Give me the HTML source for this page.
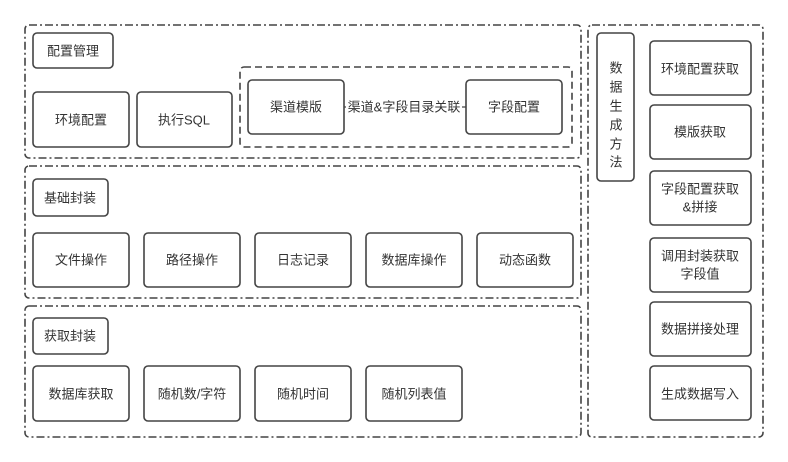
<!DOCTYPE html>
<html><head><meta charset="utf-8"><style>
html,body{margin:0;padding:0;background:#fff;}
svg{display:block;}
text{font-family:"Liberation Sans","Noto Sans CJK SC",sans-serif;font-size:13px;fill:#333;text-anchor:middle;dominant-baseline:central;}
.g{fill:none;stroke:#444;stroke-width:1.6;stroke-dasharray:8 3 2 3;}
.d{fill:none;stroke:#444;stroke-width:1.6;stroke-dasharray:7 4;}
.b{fill:#fff;stroke:#444;stroke-width:1.6;}
</style></head><body>
<svg width="788" height="462" viewBox="0 0 788 462">
<rect class="g" x="25" y="25" width="556" height="133" rx="4"/>
<rect class="g" x="25" y="166" width="556" height="132" rx="4"/>
<rect class="g" x="25" y="306" width="556" height="131" rx="4"/>
<rect class="g" x="588" y="25" width="175" height="412" rx="4"/>
<rect class="d" x="240" y="67" width="332" height="80" rx="4"/>

<rect class="b" x="33" y="33" width="80" height="35" rx="4"/><text x="73" y="51">配置管理</text>
<rect class="b" x="33" y="92" width="96" height="55" rx="4"/><text x="81" y="120">环境配置</text>
<rect class="b" x="137" y="92" width="95" height="55" rx="4"/><text x="184" y="120">执行SQL</text>
<rect class="b" x="248" y="80" width="96" height="54" rx="4"/><text x="296" y="107">渠道模版</text>
<rect class="b" x="466" y="80" width="96" height="54" rx="4"/><text x="514" y="107">字段配置</text>
<line x1="344" y1="107" x2="466" y2="107" stroke="#444" stroke-width="1.2"/>
<rect x="346" y="98" width="116" height="18" fill="#fff"/>
<text x="404" y="107">渠道&amp;字段目录关联</text>

<rect class="b" x="33" y="179" width="75" height="37" rx="4"/><text x="70" y="198">基础封装</text>
<rect class="b" x="33" y="233" width="96" height="54" rx="4"/><text x="81" y="260">文件操作</text>
<rect class="b" x="144" y="233" width="96" height="54" rx="4"/><text x="192" y="260">路径操作</text>
<rect class="b" x="255" y="233" width="96" height="54" rx="4"/><text x="303" y="260">日志记录</text>
<rect class="b" x="366" y="233" width="96" height="54" rx="4"/><text x="414" y="260">数据库操作</text>
<rect class="b" x="477" y="233" width="96" height="54" rx="4"/><text x="525" y="260">动态函数</text>

<rect class="b" x="33" y="318" width="75" height="36" rx="4"/><text x="70" y="336">获取封装</text>
<rect class="b" x="33" y="366" width="96" height="55" rx="4"/><text x="81" y="394">数据库获取</text>
<rect class="b" x="144" y="366" width="96" height="55" rx="4"/><text x="192" y="394">随机数/字符</text>
<rect class="b" x="255" y="366" width="96" height="55" rx="4"/><text x="303" y="394">随机时间</text>
<rect class="b" x="366" y="366" width="96" height="55" rx="4"/><text x="414" y="394">随机列表值</text>

<rect class="b" x="597" y="33" width="37" height="148" rx="4"/>
<text x="616" y="68">数</text><text x="616" y="87">据</text><text x="616" y="106">生</text><text x="616" y="125">成</text><text x="616" y="144">方</text><text x="616" y="162">法</text>

<rect class="b" x="650" y="41" width="101" height="54" rx="4"/><text x="700" y="69">环境配置获取</text>
<rect class="b" x="650" y="105" width="101" height="54" rx="4"/><text x="700" y="132">模版获取</text>
<rect class="b" x="650" y="171" width="101" height="54" rx="4"/><text x="700" y="189">字段配置获取</text><text x="700" y="207">&amp;拼接</text>
<rect class="b" x="650" y="238" width="101" height="54" rx="4"/><text x="700" y="256">调用封装获取</text><text x="700" y="274">字段值</text>
<rect class="b" x="650" y="302" width="101" height="54" rx="4"/><text x="700" y="329">数据拼接处理</text>
<rect class="b" x="650" y="366" width="101" height="54" rx="4"/><text x="700" y="394">生成数据写入</text>
</svg>
</body></html>
